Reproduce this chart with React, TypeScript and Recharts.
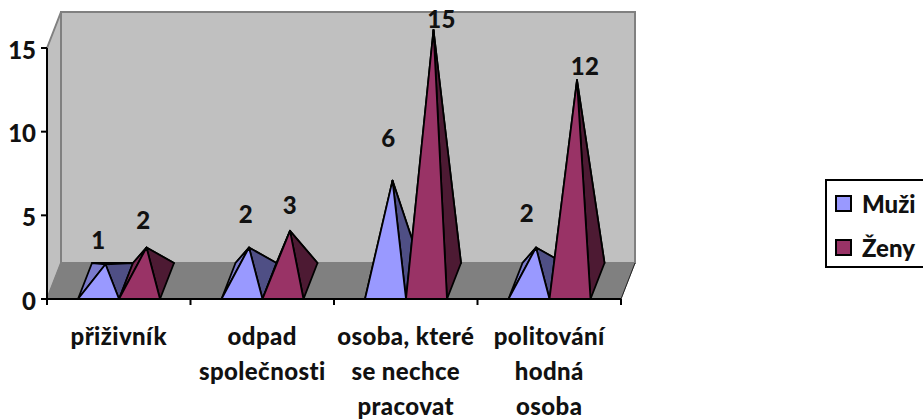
import React from "react";
import { BarChart, Bar, XAxis, YAxis, Legend, LabelList, Customized } from "recharts";

const categories = ["přiživník", "odpad\nspolečnosti", "osoba, které\nse nechce\npracovat", "politování\nhodná\nosoba"];
const muzi = [1, 2, 6, 2];
const zeny = [2, 3, 15, 12];
const yTicks = [0, 5, 10, 15];

// hand placed labels in the original, offset from top of the bar
const muziNudge = [[0, -43], [4, -52], [3, -61], [-2, -53]];
const zenyNudge = [[4, -46], [7, -44], [15, -30], [15, -33]];

const data = categories.map((name, i) => ({ name, muzi: muzi[i], zeny: zeny[i] }));

const WIDTH = 923;
const HEIGHT = 420;
const LEFT = 47;
const RIGHT = 621;
const TOP = 48;
const BOTTOM = 299;
const DX = 14; // depth of the fake 3d box
const DY = 36;
const FONT = "Lato, sans-serif";
const FONT_SIZE = 24;
const WEIGHT = 900;
const SPACING = 0.4;

const pts = (p: number[][]) => p.map((a) => a.join(",")).join(" ");

const Walls = () => (
  <g>
    <polygon points={pts([[LEFT, TOP], [LEFT + DX, TOP - DY], [LEFT + DX, BOTTOM - DY], [LEFT, BOTTOM]])} fill="#c0c0c0" stroke="#808080" strokeWidth={2} />
    <rect x={LEFT + DX} y={TOP - DY} width={RIGHT - LEFT} height={BOTTOM - TOP} fill="#c0c0c0" stroke="#808080" strokeWidth={2} />
    <polygon points={pts([[LEFT, BOTTOM], [LEFT + DX, BOTTOM - DY], [RIGHT + DX, BOTTOM - DY], [RIGHT, BOTTOM]])} fill="#808080" stroke="#808080" strokeWidth={1} />
    <line x1={RIGHT} y1={BOTTOM} x2={RIGHT + DX} y2={BOTTOM - DY} stroke="#222" strokeWidth={1} />
  </g>
);

const pyramid = (left: string, back: string, right: string) => (props: any) => {
  const { x, y, width, height, fill } = props;
  const b = y + height;
  const fl = [x, b];
  const fr = [x + width, b];
  const br = [x + width + DX, b - DY];
  const bl = [x + DX, b - DY];
  const apex = [x + width / 2 + DX / 2, y - DY / 2];
  const line = { stroke: "#000", strokeWidth: 1.8, strokeLinejoin: "round" as const };
  return (
    <g>
      <polygon points={pts([bl, br, apex])} fill={back} {...line} />
      <polygon points={pts([fl, bl, apex])} fill={left} {...line} />
      <polygon points={pts([fr, br, apex])} fill={right} {...line} />
      <polygon points={pts([fl, fr, apex])} fill={fill} {...line} />
    </g>
  );
};

const valueLabel = (nudge: number[][]) => (props: any) => {
  const { x, y, width, value, index } = props;
  return (
    <text x={x + width / 2 + nudge[index][0]} y={y + nudge[index][1]} textAnchor="middle" dominantBaseline="central" fontFamily={FONT} fontWeight={WEIGHT} fontSize={FONT_SIZE} letterSpacing={SPACING} fill="#111">
      {value}
    </text>
  );
};

const CategoryTick = (props: any) => {
  const { x, payload, index } = props;
  const band = (RIGHT - LEFT) / categories.length;
  return (
    <g>
      <line x1={x - band / 2} x2={x - band / 2} y1={BOTTOM} y2={BOTTOM + 6} stroke="#000" strokeWidth={2} />
      {index === categories.length - 1 && (
        <line x1={x + band / 2} x2={x + band / 2} y1={BOTTOM} y2={BOTTOM + 6} stroke="#000" strokeWidth={2} />
      )}
      {String(payload.value).split("\n").map((t, i) => (
        <text key={i} x={x} y={BOTTOM + 36 + i * 35.25} textAnchor="middle" dominantBaseline="central" fontFamily={FONT} fontWeight={WEIGHT} fontSize={FONT_SIZE} letterSpacing={SPACING} fill="#111">
          {t}
        </text>
      ))}
    </g>
  );
};

const LegendBox = ({ payload }: any) => (
  <div style={{ border: "2px solid #000", boxSizing: "border-box", width: 130, height: 89, paddingLeft: 8, background: "#fff" }}>
    {(payload || []).map((p: any) => (
      <div key={p.value} style={{ display: "flex", alignItems: "center", height: 44, fontFamily: FONT, fontWeight: WEIGHT, fontSize: FONT_SIZE, color: "#111" }}>
        <span style={{ width: 13, height: 13, background: p.color, border: "2px solid #000", marginRight: 10, display: "inline-block" }} />
        {p.value}
      </div>
    ))}
  </div>
);

const App = () => (
  <div style={{ position: "absolute", left: 0, top: 0, width: WIDTH, height: HEIGHT, overflow: "hidden", background: "#fff" }}>
    <BarChart
      width={WIDTH}
      height={HEIGHT}
      data={data}
      barSize={41}
      barGap={0}
      margin={{ top: TOP, right: WIDTH - RIGHT, bottom: 0, left: 0 }}
      style={{ overflow: "visible" }}
    >
      <Customized component={Walls} />
      <XAxis dataKey="name" height={HEIGHT - BOTTOM} interval={0} tickLine={false} axisLine={{ stroke: "#000", strokeWidth: 2 }} tick={CategoryTick} />
      <YAxis
        width={LEFT}
        domain={[0, 15]}
        ticks={yTicks}
        interval={0}
        tickSize={6}
        tickMargin={5}
        axisLine={{ stroke: "#000", strokeWidth: 2 }}
        tickLine={{ stroke: "#000", strokeWidth: 2 }}
        tick={{ fontFamily: FONT, fontWeight: WEIGHT, fontSize: FONT_SIZE, fill: "#111", dy: 2 }}
      />
      <Legend
        layout="horizontal"
        verticalAlign="middle"
        align="center"
        content={LegendBox}
        wrapperStyle={{ left: 825, top: 179, width: 130, height: 89 }}
      />
      <Bar dataKey="muzi" name="Muži" fill="#9999ff" isAnimationActive={false} shape={pyramid("#7a7acc", "#6a6ab0", "#4f4f85")}>
        <LabelList dataKey="muzi" content={valueLabel(muziNudge)} />
      </Bar>
      <Bar dataKey="zeny" name="Ženy" fill="#993366" isAnimationActive={false} shape={pyramid("#7a2952", "#5a1f3d", "#4d1a33")}>
        <LabelList dataKey="zeny" content={valueLabel(zenyNudge)} />
      </Bar>
    </BarChart>
  </div>
);

export default App;
